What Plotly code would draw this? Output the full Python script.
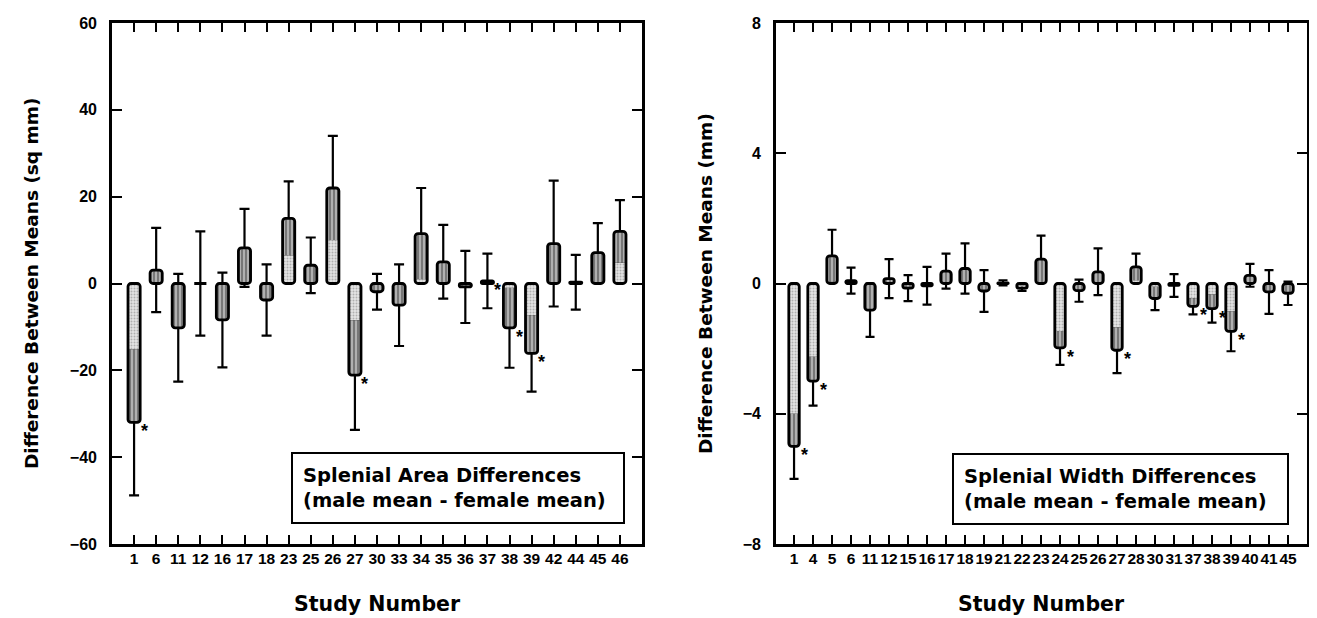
import plotly.graph_objects as go
import numpy as np

# ---------------- data ----------------
cats_left = ["1", "6", "11", "12", "16", "17", "18", "23", "25", "26", "27", "30",
             "33", "34", "35", "36", "37", "38", "39", "42", "44", "45", "46"]
mean_left = [-32.0, 3.1, -10.2, 0.0, -8.4, 8.2, -3.8, 15.0, 4.2, 22.0, -21.1, -1.9,
             -5.0, 11.5, 5.0, -0.8, 0.6, -10.2, -16.1, 9.2, 0.3, 7.1, 12.0]
err_left = [16.8, 9.7, 12.4, 12.0, 10.9, 9.0, 8.2, 8.5, 6.4, 12.0, 12.6, 4.1,
            9.4, 10.5, 8.5, 8.3, 6.3, 9.2, 8.8, 14.5, 6.3, 6.8, 7.2]
sig_left = ["1", "27", "37", "38", "39"]

cats_right = ["1", "4", "5", "6", "11", "12", "15", "16", "17", "18", "19", "21", "22", "23",
              "24", "25", "26", "27", "28", "30", "31", "37", "38", "39", "40", "41", "45"]
mean_right = [-5.0, -3.0, 0.85, 0.09, -0.82, 0.15, -0.14, -0.07, 0.38, 0.46, -0.23, 0.02, -0.15, 0.75,
              -1.98, -0.22, 0.36, -2.05, 0.51, -0.46, -0.06, -0.7, -0.77, -1.47, 0.25, -0.26, -0.3]
err_right = [1.0, 0.75, 0.8, 0.4, 0.82, 0.6, 0.4, 0.58, 0.54, 0.77, 0.64, 0.08, 0.08, 0.72,
             0.52, 0.34, 0.72, 0.7, 0.41, 0.36, 0.35, 0.25, 0.43, 0.61, 0.35, 0.67, 0.36]
sig_right = ["1", "4", "24", "27", "37", "38", "39"]

yticks_left = [-60, -40, -20, 0, 20, 40, 60]
yticks_right = [-8, -4, 0, 4, 8]

FONT = "Liberation Sans"
WIDE = "DejaVu Sans"
W, H = 1317, 618
OX, OY = 8, 8  # page body margin offset


def px(x):
    return (x - OX) / W


def py(y):
    return 1 - (y - OY) / H


fig = go.Figure()


def add_panel(cats, means, errs, sig, xa, ya, cap):
    xs = list(range(len(cats)))
    light = [float(np.sign(m) * (abs(m) - e)) if abs(m) > e else 0.0 for m, e in zip(means, errs)]
    dark = [m - l for m, l in zip(means, light)]
    common = dict(x=xs, width=0.55, xaxis=xa, yaxis=ya, showlegend=False, hoverinfo="skip")
    # carrier of error bars (drawn first so bars cover the inner half)
    fig.add_trace(go.Bar(y=means, base=0,
                         marker=dict(color="rgba(0,0,0,0)", line=dict(width=0)),
                         error_y=dict(type="data", array=errs, visible=True, color="black",
                                      thickness=2.2, width=cap), **common))
    # light stippled part
    fig.add_trace(go.Bar(y=light, base=0,
                         marker=dict(color="#e0e0e0",
                                     pattern=dict(shape=".", fgcolor="#7a7a7a", bgcolor="#e4e4e4",
                                                  size=3, solidity=0.35),
                                     line=dict(width=0)), **common))
    # dark stippled part
    fig.add_trace(go.Bar(y=dark, base=light,
                         marker=dict(color="#8a8a8a",
                                     pattern=dict(shape="|", fgcolor="#202020", bgcolor="#b0b0b0",
                                                  size=4, solidity=0.4),
                                     line=dict(width=0)), **common))
    # outline
    fig.add_trace(go.Bar(y=means, base=0,
                         marker=dict(color="rgba(0,0,0,0)", line=dict(color="black", width=2.8),
                                     cornerradius=3), **common))
    # significance asterisks
    for c in sig:
        i = cats.index(c)
        fig.add_annotation(x=i, y=means[i], xref=xa, yref=ya, text="<b>*</b>", showarrow=False,
                           xshift=10, yshift=-9, font=dict(family=FONT, size=18, color="black"))


add_panel(cats_left, mean_left, err_left, sig_left, "x", "y", 5)
add_panel(cats_right, mean_right, err_right, sig_right, "x2", "y2", 4.5)

axis_common = dict(showgrid=False, zeroline=False, showline=True, linecolor="black", linewidth=2.6,
                   mirror="ticks", ticks="inside", tickcolor="black", tickwidth=2.2, automargin=False)
xtick_font = dict(family=FONT, size=15.5, color="black", weight="bold")
ytick_font = dict(family=FONT, size=16, color="black", weight="bold")

fig.update_layout(
    width=W, height=H, margin=dict(l=0, r=0, t=0, b=0),
    paper_bgcolor="white", plot_bgcolor="white", barmode="overlay",
    xaxis=dict(domain=[px(112), px(642)], range=[-1, 23], tickvals=list(range(len(cats_left))),
               ticktext=cats_left, ticklen=9, anchor="y", tickangle=0, ticklabelstandoff=-1,
               tickfont=xtick_font, **axis_common),
    yaxis=dict(domain=[py(544), py(23)], range=[-60, 60], tickvals=yticks_left, ticklen=10,
               anchor="x", ticklabelstandoff=9, tickfont=ytick_font, **axis_common),
    xaxis2=dict(domain=[px(776), px(1307)], range=[-0.95, 27.0], tickvals=list(range(len(cats_right))),
                ticktext=cats_right, ticklen=9, anchor="y2", tickangle=0, ticklabelstandoff=-1,
                tickfont=xtick_font, **axis_common),
    yaxis2=dict(domain=[py(544), py(23)], range=[-8, 8], tickvals=yticks_right, ticklen=10,
                anchor="x2", ticklabelstandoff=9, tickfont=ytick_font, **axis_common),
)

ytitle_font = dict(family=WIDE, size=18.5, color="black", weight="bold")
xtitle_font = dict(family=WIDE, size=20.5, color="black", weight="bold")
ann_common = dict(xref="paper", yref="paper", showarrow=False, xanchor="center", yanchor="middle")
fig.add_annotation(x=px(31), y=py(283), text="Difference Between Means (sq mm)",
                   textangle=-90, font=ytitle_font, **ann_common)
fig.add_annotation(x=px(705), y=py(283), text="Difference Between Means (mm)",
                   textangle=-90, font=ytitle_font, **ann_common)
fig.add_annotation(x=px(377), y=py(604), text="Study Number", font=xtitle_font, **ann_common)
fig.add_annotation(x=px(1041), y=py(604), text="Study Number", font=xtitle_font, **ann_common)

box_font = dict(family=WIDE, size=19.5, color="black", weight="bold")
fig.add_annotation(x=px(458), y=py(488),
                   text="Splenial Area Differences<br>(male mean - female mean)", align="left",
                   width=310, font=box_font, bordercolor="black", borderwidth=2,
                   borderpad=10, bgcolor="white", **ann_common)
fig.add_annotation(x=px(1120), y=py(489),
                   text="Splenial Width Differences<br>(male mean - female mean)", align="left",
                   width=313, font=box_font, bordercolor="black", borderwidth=2,
                   borderpad=10, bgcolor="white", **ann_common)

fig.write_html("out.html")
